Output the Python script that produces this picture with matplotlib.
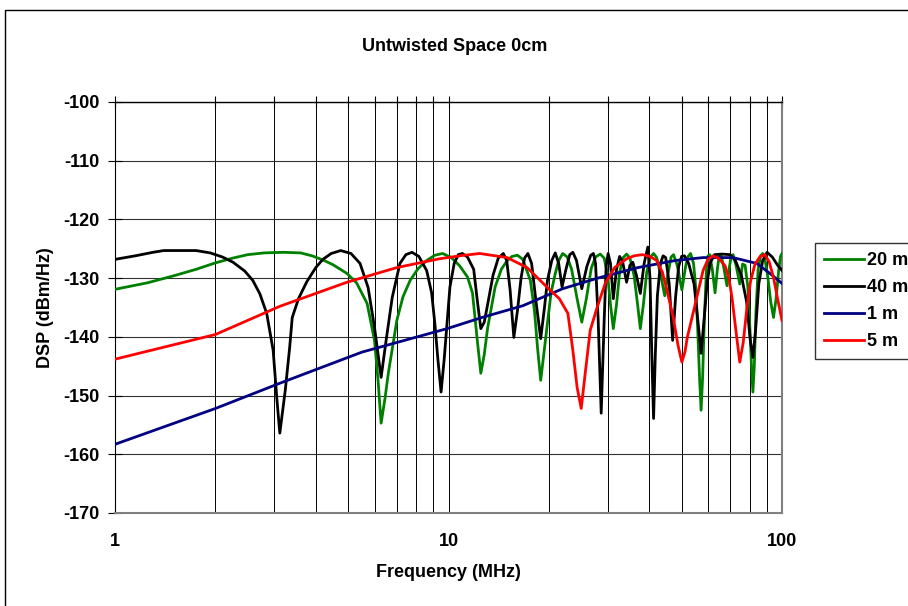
import matplotlib
matplotlib.use("Agg")
import matplotlib.pyplot as plt
import matplotlib.ticker as mtick
from matplotlib.patches import Rectangle

plt.rcParams["font.family"] = ["Liberation Sans", "DejaVu Sans"]
plt.rcParams["font.weight"] = "bold"
plt.rcParams["axes.unicode_minus"] = False

# 20 m cable
f_20m = [1.0, 1.25, 1.5, 1.75, 2.0, 2.25, 2.5, 2.8, 3.2, 3.6, 3.9, 4.2, 4.5, 4.96, 5.3,
         5.7, 6.0, 6.15, 6.28, 6.45, 6.6, 7.0, 7.3, 7.67, 8.1, 8.6, 9.1, 9.6, 10.2, 10.8,
         11.4, 11.8, 12.2, 12.5, 12.8, 13.1, 13.8, 14.4, 15.0, 15.5, 16.1, 16.7, 17.6, 18.1,
         18.5, 18.9, 19.3, 19.8, 20.3, 20.9, 21.4, 22.0, 22.7, 23.4, 24.3, 25.1, 25.9, 26.8,
         27.6, 28.5, 29.3, 30.0, 30.6, 31.2, 31.9, 32.6, 33.4, 34.2, 35.0, 36.0, 36.9, 37.6,
         38.4, 39.3, 40.3, 41.2, 42.1, 43.3, 44.5, 45.6, 46.5, 47.3, 48.5, 50.1, 51.4, 52.3,
         53.2, 54.3, 55.2, 55.9, 56.6, 57.2, 57.8, 58.5, 59.3, 60.0, 60.7, 61.8, 63.0, 64.0,
         64.8, 65.6, 66.8, 68.4, 69.6, 70.5, 71.3, 72.8, 74.7, 76.2, 77.5, 79.0, 80.2, 81.0,
         81.8, 82.6, 83.5, 84.8, 86.3, 87.5, 88.8, 90.5, 92.5, 94.3, 96.0, 97.8, 99.0, 100.0]
dsp_20m = [-131.9, -130.8, -129.6, -128.5, -127.4, -126.6, -126.0, -125.7, -125.6, -125.7,
           -126.2, -126.9, -127.7, -129.2, -130.8, -134.3, -140.6, -147.5, -154.7, -150.5,
           -146.2, -137.2, -133.2, -130.4, -128.4, -127.0, -126.1, -125.8, -126.5, -127.9,
           -129.8, -132.5, -140.6, -146.2, -143.0, -138.5, -131.5, -128.5, -127.0, -126.3,
           -126.1, -126.8, -130.4, -135.5, -142.0, -147.4, -143.0, -137.7, -132.5, -129.2,
           -127.0, -125.8, -126.4, -128.5, -133.5, -137.5, -133.5, -128.3, -126.4, -125.9,
           -126.6, -129.5, -134.5, -138.6, -134.5, -129.0, -126.5, -125.9, -126.6, -129.5,
           -134.5, -138.6, -134.5, -129.0, -126.4, -125.8, -126.5, -129.5, -133.0, -129.0,
           -126.4, -126.0, -127.8, -132.0, -128.0, -126.3, -125.8, -127.5, -132.0, -139.0,
           -147.0, -152.5, -147.0, -137.0, -129.0, -126.2, -126.0, -128.5, -132.5, -128.5,
           -126.2, -126.0, -128.0, -131.3, -128.0, -126.2, -126.0, -127.8, -131.0, -127.6,
           -127.8, -131.5, -139.0, -145.0, -149.4, -145.0, -136.0, -128.5, -126.2, -125.8,
           -126.6, -129.5, -134.0, -136.7, -133.5, -128.5, -126.3, -125.8]

# 40 m cable
f_40m = [1.0, 1.15, 1.3, 1.4, 1.75, 1.93, 2.1, 2.26, 2.45, 2.59, 2.72, 2.85, 2.98, 3.06,
         3.12, 3.24, 3.34, 3.4, 3.55, 3.76, 4.0, 4.2, 4.45, 4.75, 5.1, 5.43, 5.74, 6.0, 6.28,
         6.5, 6.78, 7.15, 7.45, 7.77, 8.15, 8.6, 8.9, 9.1, 9.3, 9.5, 9.7, 9.9, 10.1, 10.4,
         10.7, 11.0, 11.4, 11.9, 12.2, 12.5, 12.8, 13.1, 13.6, 14.1, 14.6, 14.95, 15.3, 15.7,
         16.1, 16.5, 16.9, 17.3, 17.75, 18.3, 18.9, 19.4, 19.8, 20.4, 20.9, 21.4, 21.9, 22.5,
         23.1, 23.6, 24.2, 25.1, 26.0, 26.7, 27.2, 27.6, 28.1, 28.7, 29.3, 29.7, 30.1, 30.6,
         31.2, 31.9, 32.6, 33.3, 34.2, 35.0, 35.7, 36.6, 37.6, 38.6, 39.6, 40.2, 40.7, 41.2,
         41.7, 42.3, 43.2, 44.0, 44.8, 45.9, 47.0, 48.0, 49.0, 50.0, 51.0, 52.5, 54.5, 56.0,
         57.2, 58.4, 59.7, 61.0, 62.8, 66.0, 69.8, 72.5, 75.5, 78.3, 80.3, 81.8, 83.3, 85.2,
         87.5, 90.2, 93.5, 97.0, 100.0]
dsp_40m = [-126.8, -126.2, -125.6, -125.3, -125.3, -125.7, -126.4, -127.3, -128.8, -130.4,
           -132.7, -136.0, -142.3, -150.8, -156.4, -149.1, -141.8, -136.7, -133.5, -130.6,
           -128.2, -126.8, -125.8, -125.3, -125.8, -127.5, -131.6, -138.4, -146.9, -140.6,
           -133.3, -127.5, -126.0, -125.6, -126.3, -128.7, -132.5, -137.7, -144.0, -149.4,
           -144.0, -137.7, -131.5, -127.5, -126.0, -125.8, -126.4, -128.5, -133.8, -138.6,
           -137.5, -134.5, -129.5, -126.6, -125.8, -127.0, -132.0, -140.1, -135.5, -130.0,
           -126.6, -125.8, -127.5, -134.0, -140.3, -135.0, -130.4, -127.0, -125.7, -127.5,
           -131.5, -128.5, -126.0, -125.6, -127.0, -131.8, -128.0, -126.1, -125.8, -127.5,
           -137.0, -153.0, -137.0, -128.0, -125.8, -127.5, -133.5, -128.5, -126.3, -127.3,
           -130.7, -127.8, -127.3, -129.5, -132.6, -127.5, -124.7, -130.0, -143.0, -153.9,
           -143.0, -133.0, -127.5, -126.2, -126.5, -131.0, -140.6, -133.0, -128.0, -126.3,
           -126.2, -127.5, -131.0, -137.5, -142.8, -137.0, -130.5, -127.3, -126.0, -125.9,
           -126.0, -127.0, -129.5, -134.0, -140.5, -143.5, -139.0, -131.0, -127.0, -125.6,
           -126.4, -127.8, -128.7]

# 1 m cable
f_1m = [1.0, 2.0, 3.12, 5.5, 9.9, 12.6, 16.7, 22.0, 28.0, 37.0, 47.8, 58.0, 71.3, 84.1,
        92.0, 100.0]
dsp_1m = [-158.3, -152.2, -147.9, -142.6, -138.6, -136.7, -134.7, -131.8, -130.0, -128.2,
          -127.0, -126.5, -126.5, -127.5, -129.2, -130.9]

# 5 m cable
f_5m = [1.0, 2.0, 3.12, 4.96, 7.0, 9.4, 10.8, 12.4, 15.0, 17.2, 19.8, 21.5, 22.8, 23.6,
        24.3, 25.0, 25.7, 26.6, 27.9, 29.5, 31.5, 34.2, 36.0, 38.1, 40.2, 42.1, 43.8, 45.2,
        47.2, 48.8, 50.1, 51.2, 52.0, 55.0, 58.0, 60.0, 62.0, 64.5, 67.5, 69.3, 70.8, 72.6,
        74.7, 76.5, 78.5, 80.5, 83.0, 86.0, 88.8, 91.5, 94.3, 97.0, 100.0]
dsp_5m = [-143.8, -139.6, -134.8, -130.7, -128.2, -126.7, -126.2, -125.8, -126.5, -128.2,
          -131.6, -133.5, -136.0, -142.3, -148.6, -152.2, -146.2, -138.9, -135.0, -130.9,
          -128.2, -126.7, -126.2, -126.0, -126.3, -127.0, -129.0, -132.1, -136.7, -141.5,
          -144.3, -142.5, -140.1, -134.3, -128.7, -126.8, -126.2, -126.6, -127.9, -130.0,
          -133.3, -138.5, -144.3, -141.0, -135.0, -130.5, -127.6, -126.3, -126.0, -127.2,
          -129.9, -133.5, -137.2]

series = [
    ("20 m", f_20m, dsp_20m, "#008000"),
    ("40 m", f_40m, dsp_40m, "#000000"),
    ("1 m", f_1m, dsp_1m, "#000080"),
    ("5 m", f_5m, dsp_5m, "#FF0000"),
]

W, H = 908, 606
fig = plt.figure(figsize=(W / 100, H / 100), dpi=100)
ax = fig.add_axes([115 / W, 1 - 513 / H, (782 - 115) / W, (513 - 102) / H])

# outer chart frame (runs off the right and bottom edges)
fig.patches.append(Rectangle((5 / W, -0.2), 1.2, 1.2 - 10 / H, transform=fig.transFigure,
                             fill=False, edgecolor="black", linewidth=1.0))

for label, f, v, c in series:
    ax.plot(f, v, color=c, linewidth=2.0, label=label, zorder=3)

ax.set_xscale("log")
ax.set_xlim(1, 100)
ax.set_ylim(-170, -100)
ax.set_yticks(range(-170, -99, 10))
ax.xaxis.set_major_locator(mtick.FixedLocator([1, 10, 100]))
ax.xaxis.set_minor_locator(mtick.FixedLocator([2, 3, 4, 5, 6, 7, 8, 9,
                                               20, 30, 40, 50, 60, 70, 80, 90]))
ax.xaxis.set_major_formatter(mtick.FuncFormatter(lambda x, _: f"{x:g}"))
ax.xaxis.set_minor_formatter(mtick.NullFormatter())

# Excel style: x axis crosses at the top, labels stay at the bottom
ax.tick_params(axis="x", which="both", top=True, bottom=False, labeltop=False,
               labelbottom=True, direction="inout", length=9, width=0.8, pad=10,
               labelsize=13)
ax.tick_params(axis="y", which="both", direction="inout", length=10, width=0.8, pad=6,
               labelsize=13)

ax.grid(True, which="both", axis="x", color="black", linewidth=0.7)
ax.grid(True, which="major", axis="y", color="#333333", linewidth=0.8)
ax.set_axisbelow(True)

ax.spines["top"].set_color("black")
ax.spines["top"].set_linewidth(1.0)
ax.spines["left"].set_color("black")
for side in ("bottom", "right"):
    ax.spines[side].set_color("#808080")
    ax.spines[side].set_linewidth(1.5)

ax.set_title("Untwisted Space 0cm", fontsize=13, fontweight="bold", pad=37, x=0.51)
ax.set_xlabel("Frequency (MHz)", fontsize=13, fontweight="bold", labelpad=10)
ax.set_ylabel("DSP (dBm/Hz)", fontsize=13, fontweight="bold", labelpad=7)

leg = fig.legend(loc="upper left", bbox_to_anchor=(815 / W, 1 - 243 / H),
                 fontsize=13, frameon=True, fancybox=False, handlelength=2.2,
                 handletextpad=0.2, labelspacing=0.55, borderpad=0.5, borderaxespad=0)
leg.get_frame().set_edgecolor("black")
leg.get_frame().set_linewidth(1.0)

fig.savefig("out.png", dpi=100)
